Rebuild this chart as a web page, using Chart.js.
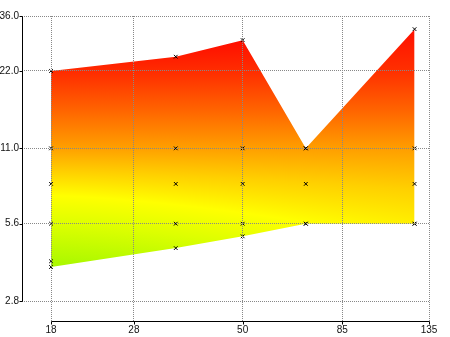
<!DOCTYPE html>
<html>
<head>
<meta charset="utf-8">
<script src="https://cdn.jsdelivr.net/npm/chart.js@4.4.1/dist/chart.umd.min.js"></script>
<style>
  html, body { margin: 0; padding: 0; background: #fff; }
  #wrap { width: 450px; height: 337px; }
</style>
</head>
<body>
<div id="wrap"><canvas id="chart" width="450" height="337"></canvas></div>
<script>
// sample positions and the band's upper / lower edge at each of them
const xValues = [18, 35, 50, 70, 125];
const upperY = [22, 25, 29, 11, 32];
const lowerY = [3.8, 4.5, 5.0, 5.6, 5.6];
// fixed levels marked at every sample
const level11 = [11, 11, 11, 11, 11];
const level8 = [8, 8, 8, 8, 8];
const level56 = [5.6, 5.6, 5.6, 5.6, 5.6];
// one extra marker
const extraX = [18];
const extraY = [4.0];

const xTicks = [18, 28, 50, 85, 135];
const yTicks = [2.8, 5.6, 11, 22, 36];

// band colours: [colour, value at left edge, value at right edge]
const SHADE = [
  ['#ff1000', 26.5, 32],
  ['#ff3000', 21.2, 22],
  ['#ff6400', 15.5, 15.5],
  ['#ffa000', 11.0, 10.8],
  ['#ffd000', 8.9, 7.6],
  ['#ffff00', 7.2, 4.8],
  ['#ddff00', 5.6, 3.4],
  ['#a8f800', 3.8, 2.2]
];

const pts = (xs, ys) => xs.map((x, i) => ({ x: x, y: ys[i] }));

let shadeCache = null;
function bandShade(chart) {
  const area = chart.chartArea;
  if (!area || !chart.scales.x || !chart.scales.y) return '#ffa000';
  const key = [area.left, area.top, area.right, area.bottom].join();
  if (shadeCache && shadeCache.key === key) return shadeCache.pattern;
  const xs = chart.scales.x, ys = chart.scales.y;
  const w = chart.width, h = chart.height;
  const off = document.createElement('canvas');
  off.width = w; off.height = h;
  const c = off.getContext('2d');
  const x0 = xs.getPixelForValue(xValues[0]);
  const x1 = xs.getPixelForValue(xValues[xValues.length - 1]);
  for (let px = 0; px < w; px++) {
    let f = (px + 0.5 - x0) / (x1 - x0);
    f = Math.pow(Math.min(1, Math.max(0, f)), 1.5);
    const g = c.createLinearGradient(0, 0, 0, h);
    SHADE.forEach(([color, a, b]) => {
      const v = Math.pow(10, Math.log10(a) * (1 - f) + Math.log10(b) * f);
      const t = Math.min(1, Math.max(0, ys.getPixelForValue(v) / h));
      g.addColorStop(t, color);
    });
    c.fillStyle = g;
    c.fillRect(px, 0, 1, h);
  }
  shadeCache = { key: key, pattern: c.createPattern(off, 'no-repeat') };
  return shadeCache.pattern;
}

// detached black axis lines with short outward ticks
const axisLines = {
  id: 'axisLines',
  afterDraw(chart) {
    const { ctx, chartArea } = chart;
    const x = chart.scales.x, y = chart.scales.y;
    const left = chartArea.left + 0.5, bottom = chartArea.bottom - 0.5;
    ctx.save();
    ctx.strokeStyle = '#000';
    ctx.lineWidth = 1;
    ctx.beginPath();
    const yTop = Math.round(y.getPixelForValue(yTicks[yTicks.length - 1])) + 0.5;
    const yBot = Math.round(y.getPixelForValue(yTicks[0])) + 0.5;
    ctx.moveTo(left, yTop);
    ctx.lineTo(left, yBot);
    yTicks.forEach(v => {
      const p = Math.round(y.getPixelForValue(v)) + 0.5;
      ctx.moveTo(left - 3, p);
      ctx.lineTo(left, p);
    });
    const xL = Math.round(x.getPixelForValue(xTicks[0])) + 0.5;
    const xR = Math.round(x.getPixelForValue(xTicks[xTicks.length - 1])) + 0.5;
    ctx.moveTo(xL, bottom);
    ctx.lineTo(xR, bottom);
    xTicks.forEach(v => {
      const p = Math.round(x.getPixelForValue(v)) + 0.5;
      ctx.moveTo(p, bottom);
      ctx.lineTo(p, bottom + 3);
    });
    ctx.stroke();
    ctx.restore();
  }
};

const marker = {
  pointStyle: 'crossRot',
  pointRadius: 2.6,
  pointBorderColor: '#000',
  pointBorderWidth: 1,
  pointBackgroundColor: 'rgba(0,0,0,0)',
  borderWidth: 0,
  showLine: false
};

Chart.defaults.font.family = '"Liberation Sans", Arial, sans-serif';
Chart.defaults.font.size = 10;
Chart.defaults.color = '#111';

new Chart(document.getElementById('chart'), {
  type: 'line',
  data: {
    datasets: [
      Object.assign({}, marker, {
        data: pts(xValues, upperY),
        showLine: true,
        borderColor: 'rgba(0,0,0,0)',
        backgroundColor: ctx => bandShade(ctx.chart),
        fill: '+1',
        tension: 0
      }),
      Object.assign({}, marker, {
        data: pts(xValues, lowerY),
        showLine: true,
        borderColor: 'rgba(0,0,0,0)',
        fill: false,
        tension: 0
      }),
      Object.assign({}, marker, { data: pts(xValues, level11) }),
      Object.assign({}, marker, { data: pts(xValues, level8) }),
      Object.assign({}, marker, { data: pts(xValues, level56) }),
      Object.assign({}, marker, { data: pts(extraX, extraY) })
    ]
  },
  options: {
    responsive: false,
    animation: false,
    events: [],
    layout: { padding: { top: 16, right: 21, left: 0, bottom: 0 } },
    plugins: {
      legend: { display: false },
      tooltip: { enabled: false },
      // paint the band before any markers so none get covered
      filler: { drawTime: 'beforeDatasetsDraw' }
    },
    scales: {
      x: {
        type: 'logarithmic',
        min: 15.42,
        max: 135,
        afterBuildTicks: s => { s.ticks = xTicks.map(v => ({ value: v })); },
        afterFit: s => { s.height = 15; },
        grid: { color: '#888', drawTicks: false, z: 1 },
        border: { display: false, dash: [1, 1] },
        ticks: { autoSkip: false, maxRotation: 0, padding: 2, callback: v => String(v) }
      },
      y: {
        type: 'logarithmic',
        min: 2.321,
        max: 36,
        afterBuildTicks: s => { s.ticks = yTicks.map(v => ({ value: v })); },
        afterFit: s => { s.width = 22; },
        grid: { color: '#888', drawTicks: false, z: 1 },
        border: { display: false, dash: [1, 1] },
        ticks: { autoSkip: false, padding: 3, callback: v => Number(v).toFixed(1) }
      }
    }
  },
  plugins: [axisLines]
});
</script>
</body>
</html>
